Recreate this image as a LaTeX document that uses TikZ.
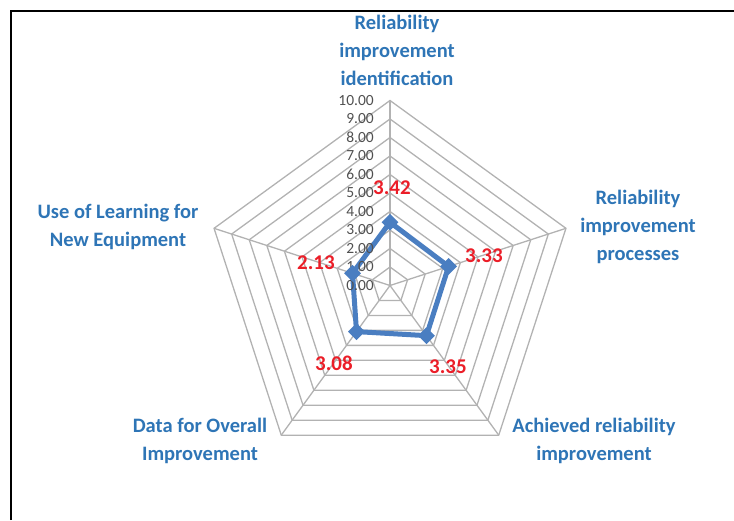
\documentclass[tikz,border=0pt]{standalone}
\usepackage{fontspec}
\setmainfont{Carlito}
\usetikzlibrary{shapes.geometric}
\definecolor{catblue}{RGB}{46,117,182}
\definecolor{serblue}{RGB}{74,126,193}
\definecolor{valred}{RGB}{235,30,40}
\definecolor{gridgray}{RGB}{178,178,178}
\definecolor{ticktext}{RGB}{80,80,80}
\pgfdeclarelayer{gridlayer}
\pgfdeclarelayer{linelayer}
\pgfsetlayers{gridlayer,linelayer,main}
\tikzset{
  gridline/.style={draw=gridgray, line width=1.3pt},
  catlabel/.style={text=catblue, font=\fontsize{20.5}{28}\selectfont\bfseries, align=center, inner sep=0pt},
  vallabel/.style={text=valred, font=\fontsize{21}{24}\selectfont\bfseries, inner sep=0pt},
  ticklabel/.style={text=ticktext, font=\fontsize{15.5}{15.5}\selectfont, anchor=east, inner sep=0pt},
  datamarker/.style={diamond, fill=serblue, minimum size=17pt, inner sep=0pt},
  series/.style={draw=serblue, line width=5pt, line join=round},
  framebox/.style={draw=black, line width=2pt}
}
\begin{document}
\begin{tikzpicture}[x=1pt,y=1pt]
\useasboundingbox (0,0) rectangle (734,520);
\draw[framebox] (11,0) -- (11,509) -- (734,509);
\begin{scope}[shift={(390,234.5)}]
  \coordinate (c) at (0,0);
  \foreach \a [count=\i] in {90,18,-54,234,162} \coordinate (v\i) at (\a:185);
  \begin{pgfonlayer}{gridlayer}
    \foreach \k in {1,...,10}
      \draw[gridline] (90:18.5*\k) -- (18:18.5*\k) -- (-54:18.5*\k) -- (234:18.5*\k) -- (162:18.5*\k) -- cycle;
    \foreach \i in {1,...,5} \draw[gridline] (c) -- (v\i);
  \end{pgfonlayer}
  \foreach \k in {0,...,10} \node[ticklabel] (t\k) at (-16,18.5*\k) {\k.00};
  \node[datamarker] (d1) at (90:63.27) {};
  \node[datamarker] (d2) at (18:61.6) {};
  \node[datamarker] (d3) at (-54:62.0) {};
  \node[datamarker] (d4) at (234:57.0) {};
  \node[datamarker] (d5) at (162:39.4) {};
  \begin{pgfonlayer}{linelayer}
    \draw[series] (d1.center) -- (d2.center) -- (d3.center) -- (d4.center) -- (d5.center) -- cycle;
  \end{pgfonlayer}
\end{scope}
\node[vallabel] (l1) at (392,332) {3.42};
\node[vallabel] (l2) at (484,264) {3.33};
\node[vallabel] (l3) at (448,153) {3.35};
\node[vallabel] (l4) at (334,157) {3.08};
\node[vallabel] (l5) at (316,257) {2.13};
\node[catlabel] (c1) at (397,470) {Reliability\\improvement\\identification};
\node[catlabel] (c2) at (638,293) {Reliability\\improvement\\processes};
\node[catlabel] (c3) at (594,79) {Achieved reliability\\improvement};
\node[catlabel] (c4) at (200,79) {Data for Overall\\Improvement};
\node[catlabel] (c5) at (118,293) {Use of Learning for\\New Equipment};
\end{tikzpicture}
\end{document}
